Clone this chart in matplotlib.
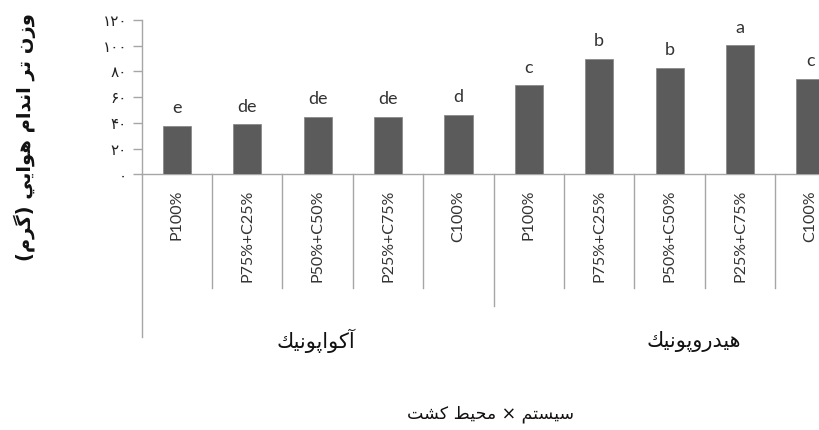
import matplotlib
matplotlib.use("Agg")
import matplotlib.pyplot as plt
import matplotlib.transforms as mtransforms

# ---------------- data ----------------
groups = ["آکواپونیک", "هیدروپونیک"]
treatments = ["P100%", "P75%+C25%", "P50%+C50%", "P25%+C75%", "C100%"]
aquaponic = [37.6, 39.1, 44.8, 44.8, 46.4]
hydroponic = [69.3, 89.7, 83.0, 100.4, 74.2]
letters_aqua = ["e", "de", "de", "de", "d"]
letters_hydro = ["c", "b", "b", "a", "c"]
yticks = [0, 20, 40, 60, 80, 100, 120]
ylabel_text = "وزن تر اندام هوایی (گرم)"
xlabel_text = "سیستم × محیط کشت"

# ---------------- simple Persian shaping ----------------
FORMS = {
    'ا': ('\uFE8D', '\uFE8E', None, None),
    'آ': ('\uFE81', '\uFE82', None, None),
    'ب': ('\uFE8F', '\uFE90', '\uFE91', '\uFE92'),
    'پ': ('\uFB56', '\uFB57', '\uFB58', '\uFB59'),
    'ت': ('\uFE95', '\uFE96', '\uFE97', '\uFE98'),
    'ح': ('\uFEA1', '\uFEA2', '\uFEA3', '\uFEA4'),
    'د': ('\uFEA9', '\uFEAA', None, None),
    'ر': ('\uFEAD', '\uFEAE', None, None),
    'ز': ('\uFEAF', '\uFEB0', None, None),
    'س': ('\uFEB1', '\uFEB2', '\uFEB3', '\uFEB4'),
    'ش': ('\uFEB5', '\uFEB6', '\uFEB7', '\uFEB8'),
    'ط': ('\uFEC1', '\uFEC2', '\uFEC3', '\uFEC4'),
    'ک': ('\uFED9', '\uFEDA', '\uFEDB', '\uFEDC'),
    'گ': ('\uFB92', '\uFB93', '\uFB94', '\uFB95'),
    'م': ('\uFEE1', '\uFEE2', '\uFEE3', '\uFEE4'),
    'ن': ('\uFEE5', '\uFEE6', '\uFEE7', '\uFEE8'),
    'ه': ('\uFEE9', '\uFEEA', '\uFEEB', '\uFEEC'),
    'و': ('\uFEED', '\uFEEE', None, None),
    'ی': ('\uFEF1', '\uFEF2', '\uFEF3', '\uFEF4'),
}
MIRROR = {'(': ')', ')': '('}


def shape(text):
    out = []
    n = len(text)
    for i, ch in enumerate(text):
        if ch not in FORMS:
            out.append(MIRROR.get(ch, ch))
            continue
        prev = text[i - 1] if i > 0 else None
        nxt = text[i + 1] if i < n - 1 else None
        f = FORMS[ch]
        jp = prev in FORMS and FORMS[prev][2] is not None
        jn = f[2] is not None and nxt in FORMS
        if jp and jn:
            out.append(f[3])
        elif jp:
            out.append(f[1])
        elif jn:
            out.append(f[2])
        else:
            out.append(f[0])
    return ''.join(reversed(out))


PDIG = str.maketrans("0123456789", "۰۱۲۳۴۵۶۷۸۹")

# ---------------- figure ----------------
W, H = 819, 430
fig = plt.figure(figsize=(W / 100, H / 100), dpi=100)
ax_left, ax_right = 141.7, 845.6
ax_top, ax_bot = 20.0, 174.3
ax = fig.add_axes([ax_left / W, 1 - ax_bot / H, (ax_right - ax_left) / W, (ax_bot - ax_top) / H])

values = aquaponic + hydroponic
letters = letters_aqua + letters_hydro
labels = treatments + treatments
xs = list(range(len(values)))

bar_color = "#5b5b5b"
axis_color = "#a6a6a6"
text_color = "#333333"

ax.bar(xs, values, width=0.4, color=bar_color, edgecolor="#8a8a8a", linewidth=0.6, zorder=3)
ax.set_xlim(-0.5, len(values) - 0.5)
ax.set_ylim(0, 120)

for x, v, lt in zip(xs, values, letters):
    ax.annotate(lt, (x, v), xytext=(0, 9), textcoords="offset points",
                ha="center", va="baseline", fontsize=13, color=text_color,
                family="Lato")

for s in ["top", "right"]:
    ax.spines[s].set_visible(False)
for s in ["left", "bottom"]:
    ax.spines[s].set_color(axis_color)
    ax.spines[s].set_linewidth(1.0)

ax.set_yticks(yticks)
ax.set_yticklabels([str(t).translate(PDIG) for t in yticks], fontsize=11,
                   family="DejaVu Sans", color="#222222")
ax.tick_params(axis="y", direction="out", length=6.5, width=1.0, color=axis_color, pad=4)
ax.set_xticks([])

# multi-level category axis
trans = mtransforms.blended_transform_factory(ax.transData, ax.transAxes)
hpx = ax_bot - ax_top


def yfrac(py):
    return -(py - ax_bot) / hpx


for i in range(len(values) + 1):
    xb = i - 0.5
    if i == 0 or i == len(values):
        yend = 337
    elif i == len(treatments):
        yend = 306
    else:
        yend = 288
    ax.plot([xb, xb], [0, yfrac(yend)], transform=trans, color=axis_color,
            lw=1.0, clip_on=False, zorder=1)

for x, lab in zip(xs, labels):
    ax.text(x, yfrac(190), lab, transform=trans, rotation=90, ha="center", va="top",
            fontsize=11.5, color=text_color, family="Lato")

group_px = [316, 694]
for g, px in zip(groups, group_px):
    fig.text(px / W, 1 - 341 / H, shape(g), ha="center", va="center",
             fontsize=15, family="DejaVu Sans", color="#111111")

fig.text(491 / W, 1 - 414 / H, shape(xlabel_text), ha="center", va="center",
         fontsize=12.5, family="DejaVu Sans", color="#111111")

fig.text(25 / W, 1 - 137 / H, shape(ylabel_text), ha="center", va="center",
         rotation=90, fontsize=14, fontweight="bold", family="DejaVu Sans",
         color="#111111")

fig.savefig("out.png", dpi=100)
